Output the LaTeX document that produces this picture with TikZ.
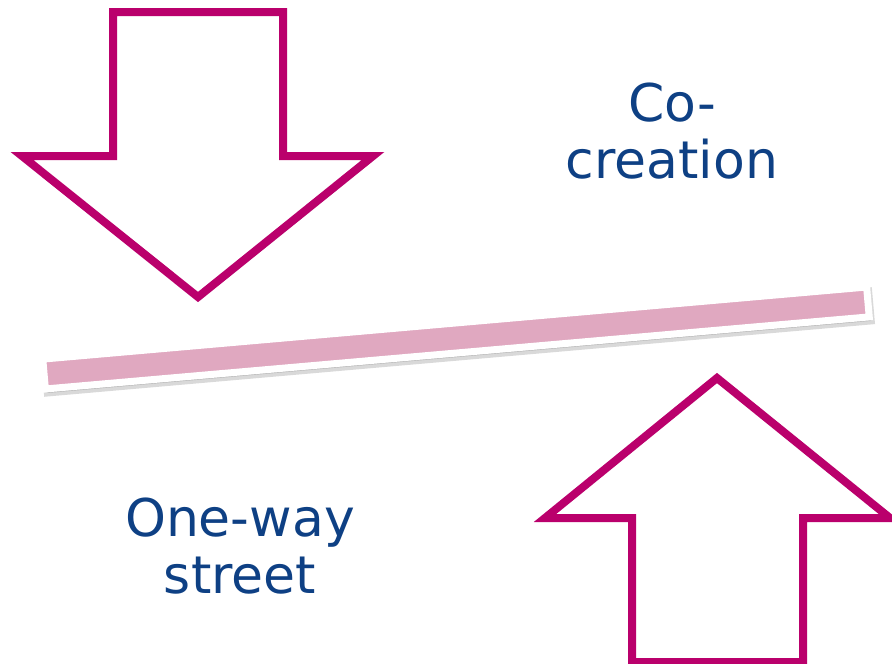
\documentclass[tikz,border=0pt]{standalone}
\usepackage{fontspec}
\setmainfont{DejaVu Sans}

\definecolor{arrowred}{RGB}{186,0,108}
\definecolor{trackpink}{RGB}{224,168,192}
\definecolor{textblue}{RGB}{14,64,132}

\tikzset{
  softshadow/.style={preaction={draw=black, fill=black, opacity=0.15,
    transform canvas={shift={(#1)}}}},
  bigarrow/.style={draw=arrowred, line width=8pt, fill=white, miter limit=10,
    softshadow={2pt,-3pt}},
  bartrack/.style={draw=white, fill=trackpink, line width=7pt, minimum width=827pt,
    minimum height=30pt, inner sep=0pt, softshadow={2pt,-4pt}},
  caption/.style={text=textblue, align=center, font=\fontsize{52}{57}\selectfont}
}

\begin{document}
\begin{tikzpicture}[x=1pt, y=-1pt]
  \useasboundingbox (0,0) rectangle (892,664);
  % Downward arrow, top left.
  \draw[bigarrow] (113,12) -- (283,12) -- (283,156) -- (373,156) -- (198,297)
    -- (22,156) -- (113,156) -- cycle;
  % Tilted track across the middle.
  \node[bartrack, rotate=5] (track) at (456,338) {};
  % Upward arrow, bottom right.
  \draw[bigarrow] (717,378) -- (890,518) -- (803,518) -- (803,662)
    -- (632,662) -- (632,518) -- (545,518) -- cycle;
  % Labels.
  \node[caption] (cocreation) at (672,131) {Co-\\creation};
  \node[caption] (oneway) at (240,546) {One-way\\street};
\end{tikzpicture}
\end{document}
